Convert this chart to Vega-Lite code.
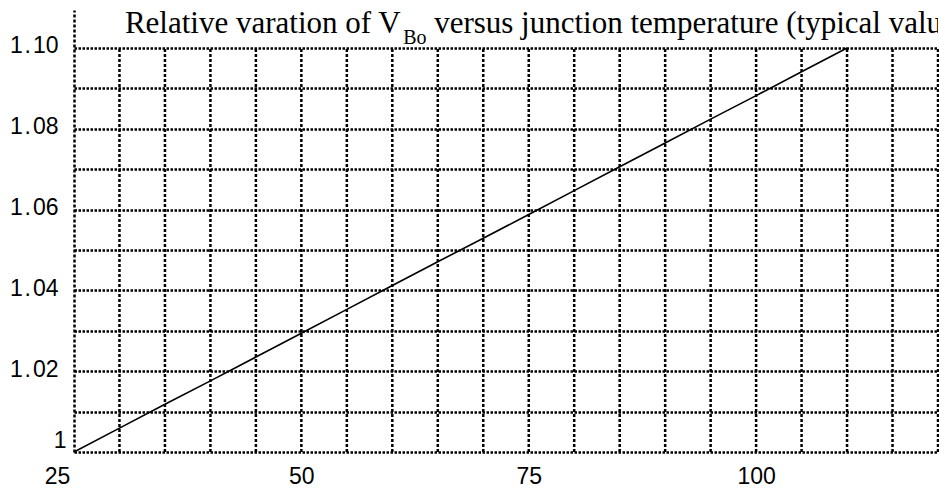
{
  "$schema": "https://vega.github.io/schema/vega-lite/v6.json",
  "width": 864,
  "height": 442,
  "autosize": {"type": "none"},
  "padding": {"left": 74, "top": 10, "right": 1, "bottom": 38},
  "background": "white",
  "config": {"view": {"stroke": null}},
  "datasets": {
    "curve": [
      {"temp": 25, "rel": 1.0},
      {"temp": 30, "rel": 1.0059},
      {"temp": 35, "rel": 1.0118},
      {"temp": 40, "rel": 1.0176},
      {"temp": 45, "rel": 1.0235},
      {"temp": 50, "rel": 1.0294},
      {"temp": 55, "rel": 1.0353},
      {"temp": 60, "rel": 1.0412},
      {"temp": 65, "rel": 1.0471},
      {"temp": 70, "rel": 1.0529},
      {"temp": 75, "rel": 1.0588},
      {"temp": 80, "rel": 1.0647},
      {"temp": 85, "rel": 1.0706},
      {"temp": 90, "rel": 1.0765},
      {"temp": 95, "rel": 1.0824},
      {"temp": 100, "rel": 1.0882},
      {"temp": 105, "rel": 1.0941},
      {"temp": 110, "rel": 1.1}
    ],
    "vgrid": [
      {"temp": 30, "low": 1.0, "high": 1.1}, {"temp": 35, "low": 1.0, "high": 1.1},
      {"temp": 40, "low": 1.0, "high": 1.1}, {"temp": 45, "low": 1.0, "high": 1.1},
      {"temp": 50, "low": 1.0, "high": 1.1}, {"temp": 55, "low": 1.0, "high": 1.1},
      {"temp": 60, "low": 1.0, "high": 1.1}, {"temp": 65, "low": 1.0, "high": 1.1},
      {"temp": 70, "low": 1.0, "high": 1.1}, {"temp": 75, "low": 1.0, "high": 1.1},
      {"temp": 80, "low": 1.0, "high": 1.1}, {"temp": 85, "low": 1.0, "high": 1.1},
      {"temp": 90, "low": 1.0, "high": 1.1}, {"temp": 95, "low": 1.0, "high": 1.1},
      {"temp": 100, "low": 1.0, "high": 1.1}, {"temp": 105, "low": 1.0, "high": 1.1},
      {"temp": 110, "low": 1.0, "high": 1.1}, {"temp": 115, "low": 1.0, "high": 1.1},
      {"temp": 120, "low": 1.0, "high": 1.1}
    ],
    "titleMain": [
      {"temp": 30.6, "rel": 1.1037, "label": "Relative varation of V"},
      {"temp": 64.6, "rel": 1.1037, "label": "versus junction temperature (typical values)"}
    ],
    "titleSub": [
      {"temp": 61.2, "rel": 1.1010, "label": "Bo"}
    ]
  },
  "layer": [
    {
      "data": {"name": "vgrid"},
      "mark": {"type": "rule", "color": "black", "strokeWidth": 2.5, "strokeDash": [3, 2]},
      "encoding": {
        "x": {"field": "temp", "type": "quantitative"},
        "y": {"field": "low", "type": "quantitative"},
        "y2": {"field": "high"}
      }
    },
    {
      "data": {"name": "curve"},
      "mark": {"type": "line", "color": "black", "strokeWidth": 1.6},
      "encoding": {
        "x": {
          "field": "temp",
          "type": "quantitative",
          "scale": {"domain": [25, 120], "nice": false, "zero": false},
          "axis": {
            "title": null,
            "values": [25, 50, 75, 100],
            "grid": false,
            "ticks": false,
            "domain": false,
            "labelFont": "Liberation Sans",
            "labelFontSize": 23,
            "labelColor": "black",
            "labelPadding": 13,
            "labelFlush": false,
            "labelOverlap": false,
            "labelBound": false,
            "labelOffset": {"condition": {"test": "datum.value == 25", "value": -17}, "value": 0}
          }
        },
        "y": {
          "field": "rel",
          "type": "quantitative",
          "scale": {"domain": [1, 1.1094], "nice": false, "zero": false},
          "axis": {
            "title": null,
            "values": [1, 1.01, 1.02, 1.03, 1.04, 1.05, 1.06, 1.07, 1.08, 1.09, 1.1],
            "grid": true,
            "gridColor": "black",
            "gridDash": [2.5, 1.5],
            "gridWidth": 2.5,
            "gridOpacity": 1,
            "ticks": false,
            "domain": true,
            "domainColor": "black",
            "domainDash": [3, 2],
            "domainWidth": 2.5,
            "labelExpr": "round(datum.value * 100) % 2 == 0 ? (datum.value == 1 ? '1' : replace(format(datum.value, '.2f'), '.', '\u200a.\u200a')) : ''",
            "labelFont": "Liberation Sans",
            "labelFontSize": 23,
            "labelColor": "black",
            "labelFlush": false,
            "labelOverlap": false,
            "labelBound": false,
            "labelPadding": {"condition": {"test": "datum.value == 1", "value": 8}, "value": 16},
            "labelOffset": {"condition": {"test": "datum.value == 1", "value": -12}, "value": -2}
          }
        }
      }
    },
    {
      "data": {"name": "titleMain"},
      "mark": {"type": "text", "font": "Liberation Serif", "fontSize": 31, "align": "left", "baseline": "alphabetic", "color": "black", "clip": true},
      "encoding": {
        "x": {"field": "temp", "type": "quantitative"},
        "y": {"field": "rel", "type": "quantitative"},
        "text": {"field": "label"}
      }
    },
    {
      "data": {"name": "titleSub"},
      "mark": {"type": "text", "font": "Liberation Serif", "fontSize": 20, "align": "left", "baseline": "alphabetic", "color": "black", "clip": true},
      "encoding": {
        "x": {"field": "temp", "type": "quantitative"},
        "y": {"field": "rel", "type": "quantitative"},
        "text": {"field": "label"}
      }
    }
  ]
}
